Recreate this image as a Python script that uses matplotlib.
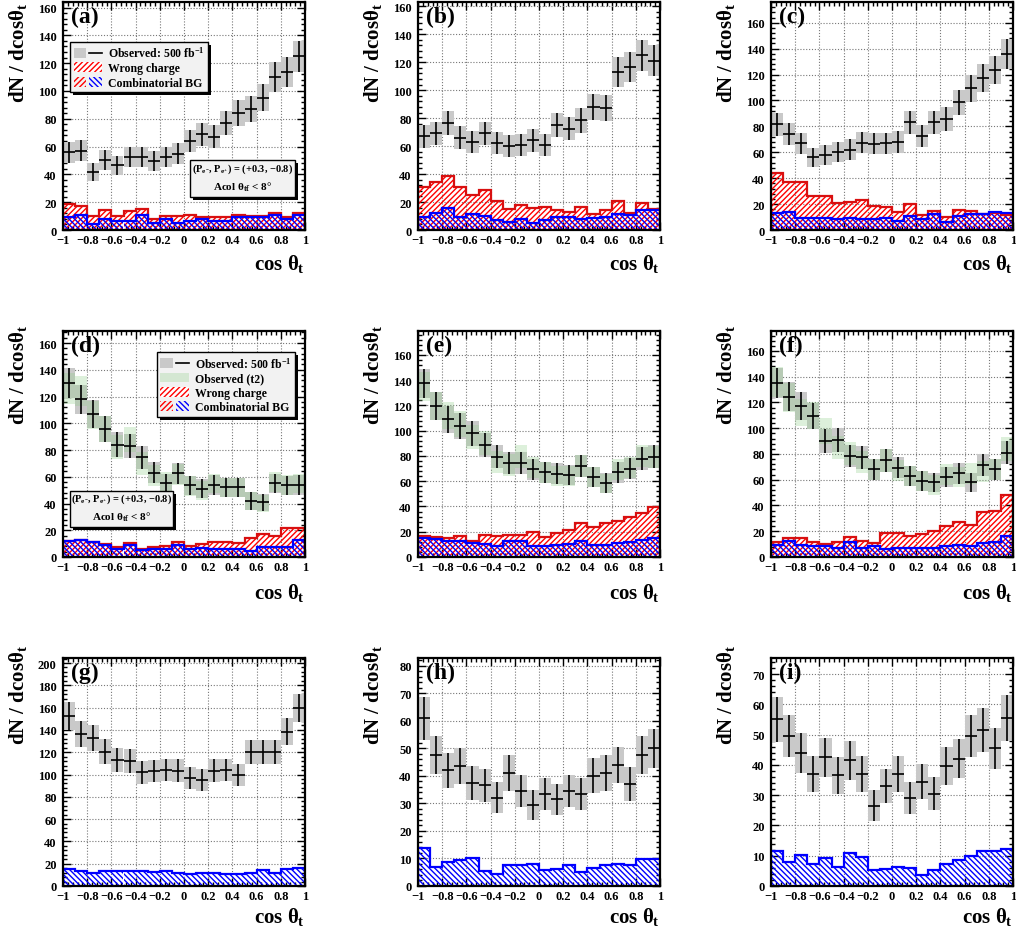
import numpy as np
import matplotlib
matplotlib.use("Agg")
import matplotlib.pyplot as plt
import matplotlib.patheffects as pe
from matplotlib.patches import Patch, Rectangle
from matplotlib.lines import Line2D
from matplotlib.legend_handler import HandlerTuple
from matplotlib.ticker import MultipleLocator, FuncFormatter

plt.rcParams['font.family'] = ['Liberation Serif', 'DejaVu Serif']
plt.rcParams['font.weight'] = 'bold'
plt.rcParams['mathtext.fontset'] = 'custom'
plt.rcParams['mathtext.rm'] = 'Liberation Serif:bold'
plt.rcParams['mathtext.it'] = 'Liberation Serif:bold'
plt.rcParams['mathtext.bf'] = 'Liberation Serif:bold'
plt.rcParams['hatch.linewidth'] = 1.0

# 20 bins in cos(theta_t) from -1 to 1
edges = np.linspace(-1, 1, 21)
centers = 0.5 * (edges[1:] + edges[:-1])

# observed dN/dcos values
obs_a = [56, 57, 42, 50.5, 46.5, 52.5, 52.5, 49.5, 52.5, 55, 64, 69, 67, 77, 84, 87, 95, 110, 113.5, 125]
obs_b = [67, 69, 76.5, 66, 63, 69, 62, 60, 60.5, 64, 61, 75, 72.5, 78.5, 88, 87.5, 113, 116.5, 125, 121]
obs_c = [81.5, 74, 67, 56, 58, 60, 62, 67.5, 66.5, 67, 68, 83, 72.5, 83, 85.5, 98.5, 109.5, 117, 123.5, 136]
obs_d = [130, 118, 107, 96, 84, 83, 74.5, 63, 55, 62.5, 53.5, 51, 54, 52, 52, 42, 41, 55, 53.5, 54]
obs_e = [137.5, 119.5, 109, 103.5, 98, 88.5, 79.5, 74.5, 74.5, 69.5, 67, 66, 65, 72, 63, 58.5, 67, 70, 78, 79.5]
obs_f = [135, 124.5, 117.5, 109.5, 90, 91, 78.5, 77.5, 68, 75, 69.5, 63, 59, 58, 62, 65, 58, 71.5, 68, 81]
obs_g = [152.5, 136, 133, 120.5, 113, 112, 102, 103, 104, 103.5, 96.5, 95, 103.5, 104, 99.5, 120, 120, 120, 138.5, 159.5]
obs_h = [61, 47.5, 42, 43.5, 37.5, 36.5, 32, 41, 34.5, 29.5, 33.5, 31.5, 34.5, 33.5, 40, 41, 44, 37, 47.5, 50]
obs_i = [55, 49.5, 44, 37, 42.5, 36.5, 41.5, 37, 26.5, 33, 37, 29, 34.5, 30.5, 39.5, 42, 49.5, 51.5, 45.5, 55.5]

# second observation (t2), panels d-f
t2_d = [126, 124, 106, 96, 82, 88, 70, 61, 56, 62, 53, 50, 55, 52, 52, 42, 40, 56, 54, 55]
t2_e = [135, 119.5, 112, 105, 95, 90, 75.5, 73, 79.5, 71, 67, 64, 64, 72, 63, 58, 69, 71, 80, 79]
t2_f = [136, 124, 112, 110, 98, 85, 80, 74, 68, 75, 67, 63, 59, 56, 64, 62, 65, 66.5, 68, 84]

# wrong charge background
wrong_a = [19, 17, 10, 14.5, 10, 14, 15.4, 7.7, 10, 10, 10.5, 9, 9, 9, 10.5, 10, 10, 12.5, 9, 12]
wrong_b = [30.5, 34, 38.5, 31, 25, 28.6, 20.4, 15, 18, 16, 16.6, 14.4, 13.2, 16.8, 11.3, 14, 20.4, 12.5, 19.2, 15]
wrong_c = [44, 36.8, 36.8, 26.5, 26, 20.7, 22, 23, 18.7, 18, 14, 20, 11.4, 14.5, 9.9, 15.3, 14.8, 12.4, 13.5, 11.4]
wrong_d = [11.7, 13, 11.4, 9.7, 7.7, 10.4, 6, 7.7, 8.4, 11, 8.4, 9.7, 11.4, 11, 10.4, 14.2, 17, 16, 21.4, 21.4]
wrong_e = [16.3, 15.5, 14.8, 16.3, 13, 17.7, 16.3, 17.7, 17.7, 19.5, 15.5, 18.7, 21.6, 26.9, 23.5, 26.9, 28.7, 31.9, 34.5, 39.3]
wrong_f = [12, 14.7, 14.7, 11.4, 10, 11.9, 15.2, 12.7, 10.9, 18.4, 18.4, 16, 17.8, 20.2, 24.3, 27.4, 24.8, 35, 36, 48.3]

# combinatorial background
comb_a = [9.6, 10.5, 4, 7.7, 6.5, 6.5, 10.5, 5.3, 7.7, 5.3, 6.5, 8, 6.5, 6.5, 9, 9.6, 9.6, 10.5, 8, 10.5]
comb_b = [9.6, 12.5, 15.4, 9.6, 11.3, 10, 7, 6, 7.7, 5.3, 7, 9.4, 9.4, 7.7, 8.4, 9, 11.3, 10.5, 14.2, 14.2]
comb_c = [13.5, 14, 9.6, 9.6, 9.6, 8.3, 9.6, 8.8, 8.8, 9.6, 6.7, 11, 8.3, 12, 6.2, 11, 12.2, 12.2, 14, 13.5]
comb_d = [11.7, 13, 11, 9.2, 6, 9.2, 5.5, 6, 6, 9.2, 6, 6.7, 6, 6, 6, 4.7, 7.2, 7.2, 7.2, 13]
comb_e = [15, 14.2, 13, 13, 11, 10.3, 9, 13, 13, 9, 9, 9.5, 10.3, 13, 9.5, 9.5, 11, 11.6, 13.7, 15]
comb_f = [9.6, 12.7, 9.6, 8.8, 8.8, 7.2, 11.4, 7.2, 8.8, 6.2, 6.7, 6.7, 7.2, 7.2, 8.8, 9.6, 8.8, 10.9, 11.9, 16.5]
comb_g = [15, 13.5, 11.4, 13.5, 13.5, 13.5, 13.5, 12.9, 13.5, 11.4, 10.5, 12, 12, 10.5, 10.5, 11.4, 14.4, 11.4, 15, 16.5]
comb_h = [13.7, 6.9, 8.8, 9.3, 10.3, 5.5, 4.5, 7.6, 7.6, 7.9, 5.8, 6, 7.5, 5.2, 6.7, 7.6, 8, 7.6, 9.9, 9.9]
comb_i = [11.6, 8, 10.3, 7.4, 9.4, 6.3, 11, 9.7, 5.2, 5.5, 6.3, 6.1, 3.6, 5.2, 7.2, 8.6, 9.9, 11.6, 11.6, 12.1]

GRAY = '#c9c9c9'
GREEN = '#8fcf8a'
RED = '#ff0000'
RED_LINE = '#d81010'
BLUE = '#0000ff'
BOX_FC = '#f2f2f2'
HATCH_R = '//////'
HATCH_B = '\\\\\\\\\\\\'
SHADOW = [pe.SimplePatchShadow(offset=(2.2, -2.2), shadow_rgbFace='black', alpha=1.0), pe.Normal()]


def fmt_x(v, pos):
    return f"{round(v, 1) + 0:g}".replace('-', '\u2212')


def draw_panel(ax, tag, obs, wrong, comb, t2, ymax, ystep, ylab_y, xlab_y):
    ax.set_axisbelow(True)
    if wrong is not None:
        ax.bar(centers, wrong, width=0.1, fill=False, hatch=HATCH_R, edgecolor=RED, linewidth=0)
    ax.bar(centers, comb, width=0.1, fill=False, hatch=HATCH_B, edgecolor=BLUE, linewidth=0)
    if wrong is not None:
        ax.stairs(wrong, edges, color=RED_LINE, linewidth=1.6)
    ax.stairs(comb, edges, color=BLUE, linewidth=1.6)

    obs = np.asarray(obs, dtype=float)
    err = np.sqrt(obs)
    ax.bar(centers, 2 * err, bottom=obs - err, width=0.1, color=GRAY, linewidth=0)
    if t2 is not None:
        t2 = np.asarray(t2, dtype=float)
        e2 = np.sqrt(t2)
        ax.bar(centers, 2 * e2, bottom=t2 - e2, width=0.1, color=GREEN, alpha=0.3, linewidth=0)
    ax.errorbar(centers, obs, xerr=0.05, yerr=err, fmt='none', ecolor='black',
                elinewidth=1.2, capsize=0)

    ax.set_xlim(-1, 1)
    ax.set_ylim(0, ymax)
    ax.xaxis.set_major_locator(MultipleLocator(0.2))
    ax.xaxis.set_minor_locator(MultipleLocator(0.04))
    ax.xaxis.set_major_formatter(FuncFormatter(fmt_x))
    ax.yaxis.set_major_locator(MultipleLocator(ystep))
    ax.yaxis.set_minor_locator(MultipleLocator(ystep / 5))
    ax.tick_params(which='both', direction='in', top=True, right=True, width=1.0)
    ax.tick_params(which='major', length=6, labelsize=9)
    ax.tick_params(axis='x', which='major', pad=3)
    ax.tick_params(axis='y', which='major', pad=4.5)
    ax.tick_params(which='minor', length=3)
    for lab in ax.get_xticklabels() + ax.get_yticklabels():
        lab.set_fontweight('bold')
    ax.grid(True, which='major', color='#777777', linestyle=(0, (1, 1.6)), linewidth=0.8)
    for s in ax.spines.values():
        s.set_linewidth(1.6)

    ax.set_xlabel(r'cos $\theta_{t}$', fontsize=15, fontweight='bold', loc='right')
    ax.xaxis.set_label_coords(1.0, xlab_y)
    ax.set_ylabel(r'dN / dcos$\theta_{t}$', fontsize=15, fontweight='bold', loc='top')
    ax.yaxis.set_label_coords(-0.14, ylab_y)
    ax.text(0.035, 0.985, f'({tag})', transform=ax.transAxes, ha='left', va='top',
            fontsize=17, fontweight='bold')


def pol_box(ax, x0, y0, w, h, y1, y2):
    ax.add_patch(Rectangle((x0, y0), w, h, transform=ax.transAxes, facecolor=BOX_FC,
                           edgecolor='black', linewidth=1.0, zorder=5, path_effects=SHADOW))
    xc = x0 + w / 2
    ax.text(xc, y1, '(P$_{e^{-}}$, P$_{e^{+}}$) = (+0.3, \u22120.8)', transform=ax.transAxes,
            ha='center', va='center', fontsize=7.5, fontweight='bold', zorder=6)
    ax.text(xc, y2, r'Acol $\theta_{t\bar{t}}$ < 8°', transform=ax.transAxes,
            ha='center', va='center', fontsize=8, fontweight='bold', zorder=6)


fig = plt.figure(figsize=(10.16, 9.28), dpi=100)
W, H = 1016, 928
col_left = [63, 418, 771]
row_top = [3, 332, 659]
row_bot = [231, 558, 887]
ylab_y = [1.0, 1.03, 1.06]
xlab_y = [-0.095, -0.105, -0.082]

panels = [
    ('a', obs_a, wrong_a, comb_a, None, 164, 20),
    ('b', obs_b, wrong_b, comb_b, None, 163, 20),
    ('c', obs_c, wrong_c, comb_c, None, 176, 20),
    ('d', obs_d, wrong_d, comb_d, t2_d, 169, 20),
    ('e', obs_e, wrong_e, comb_e, t2_e, 179, 20),
    ('f', obs_f, wrong_f, comb_f, t2_f, 175.5, 20),
    ('g', obs_g, None, comb_g, None, 204.5, 20),
    ('h', obs_h, None, comb_h, None, 82.8, 10),
    ('i', obs_i, None, comb_i, None, 75.3, 10),
]

axes = []
for k, (tag, obs, wrong, comb, t2, ymax, ystep) in enumerate(panels):
    r, c = divmod(k, 3)
    ax = fig.add_axes([col_left[c] / W, 1 - row_bot[r] / H, 242 / W,
                       (row_bot[r] - row_top[r]) / H])
    draw_panel(ax, tag, obs, wrong, comb, t2, ymax, ystep, ylab_y[r], xlab_y[r])
    axes.append(ax)

obs_handle = (Patch(facecolor=GRAY, edgecolor='none'), Line2D([0], [0], color='black', lw=1.2))
t2_handle = Patch(facecolor=GREEN, alpha=0.3, edgecolor='none')
wrong_handle = Patch(facecolor='white', edgecolor=RED, hatch=HATCH_R, linewidth=0)
comb_handle = (Patch(fill=False, edgecolor=RED, hatch=HATCH_R, linewidth=0),
               Patch(fill=False, edgecolor=BLUE, hatch=HATCH_B, linewidth=0))

leg_kw = dict(loc='upper left', prop={'size': 8.5, 'weight': 'bold'}, fancybox=False,
              edgecolor='black', facecolor=BOX_FC, framealpha=1, handlelength=2.4,
              handleheight=0.9, borderpad=0.3, labelspacing=0.2, handletextpad=0.5,
              borderaxespad=0.0, handler_map={tuple: HandlerTuple(ndivide=None)})

leg = axes[0].legend([obs_handle, wrong_handle, comb_handle],
                     ['Observed: 500 fb$^{-1}$', 'Wrong charge', 'Combinatorial BG'],
                     bbox_to_anchor=(0.029, 0.825), **leg_kw)
leg.get_frame().set_linewidth(1.0)
leg.get_frame().set_path_effects(SHADOW)

leg = axes[3].legend([obs_handle, t2_handle, wrong_handle, comb_handle],
                     ['Observed: 500 fb$^{-1}$', 'Observed (t2)', 'Wrong charge', 'Combinatorial BG'],
                     bbox_to_anchor=(0.388, 0.907), **leg_kw)
leg.get_frame().set_linewidth(1.0)
leg.get_frame().set_path_effects(SHADOW)

pol_box(axes[0], 0.525, 0.145, 0.434, 0.162, 0.272, 0.19)
pol_box(axes[3], 0.029, 0.133, 0.426, 0.159, 0.262, 0.18)

fig.savefig('out.png', dpi=100)
